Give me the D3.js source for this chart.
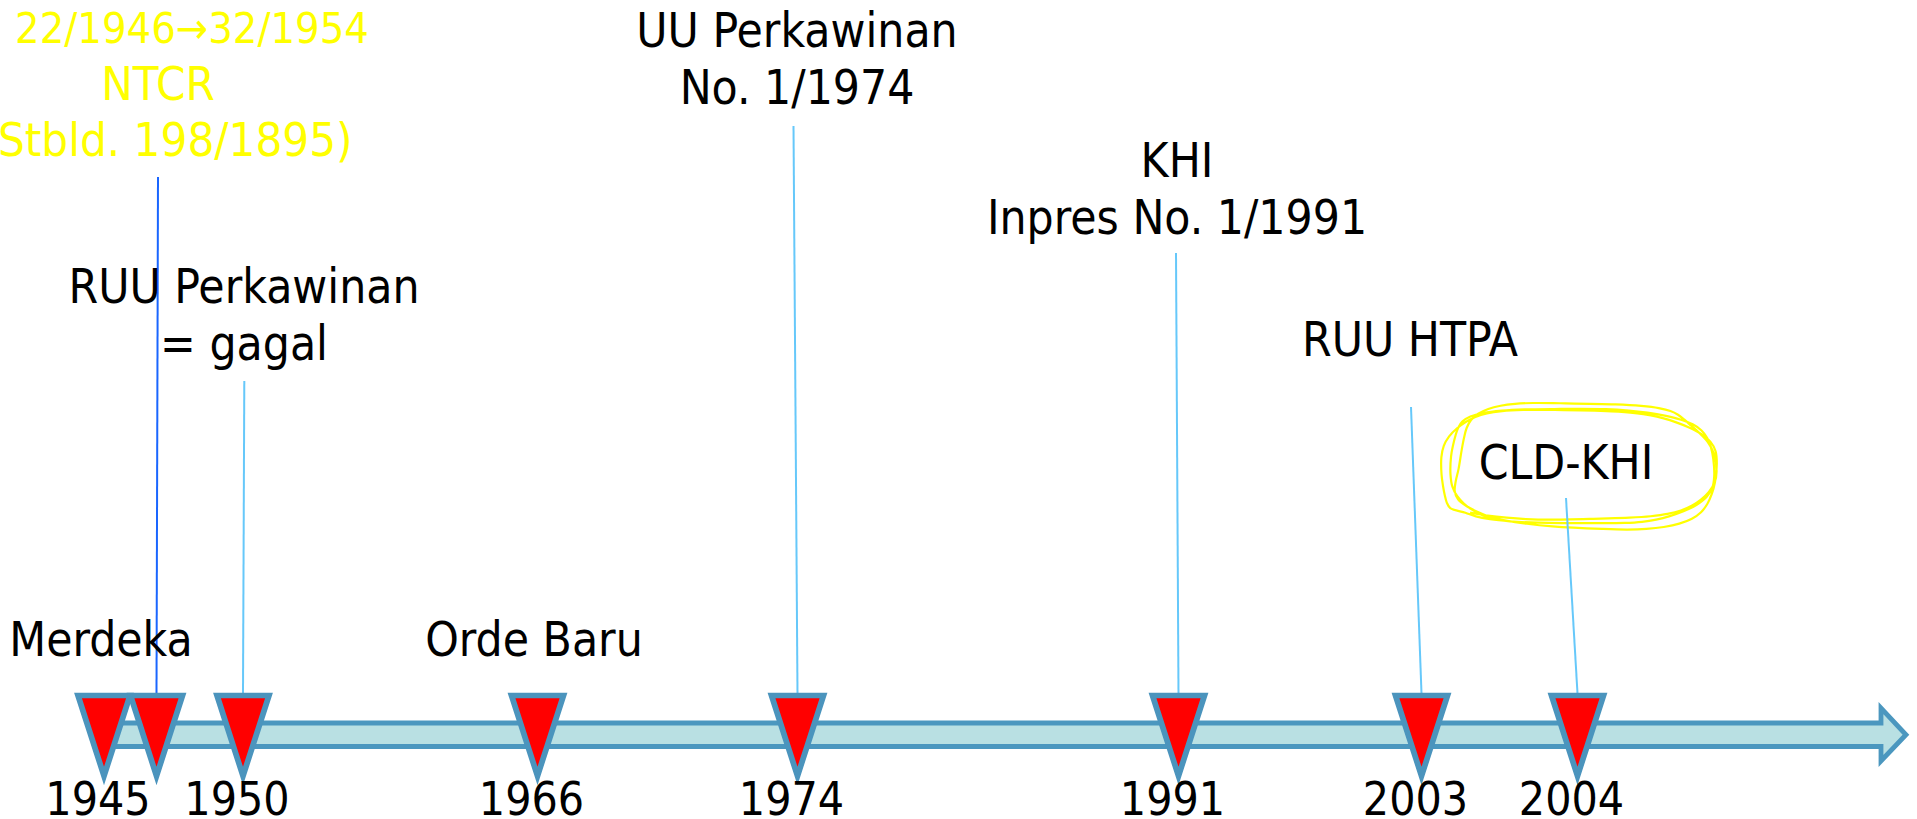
<!DOCTYPE html>
<meta charset="utf-8">
<style>
  html, body { margin: 0; padding: 0; background: #fff; overflow: hidden; }
  text { font-family: "DejaVu Sans Condensed", "DejaVu Sans", sans-serif; font-stretch: condensed; }
</style>
<body></body>
<script src="https://cdn.jsdelivr.net/npm/d3@7"></script>
<script>

const width = 1917, height = 819;

// events on the timeline
const years = [1945, 1946, 1950, 1966, 1974, 1991, 2003, 2004];
const yearTicks = ["1945", "", "1950", "1966", "1974", "1991", "2003", "2004"];
const eventText = [
  ["Merdeka"],
  ["22/1946\u219232/1954", "NTCR", "(Stbld. 198/1895)"],
  ["RUU Perkawinan", "= gagal"],
  ["Orde Baru"],
  ["UU Perkawinan", "No. 1/1974"],
  ["KHI", "Inpres No. 1/1991"],
  ["RUU HTPA"],
  ["CLD-KHI"]
];
const yellowText = [false, true, false, false, false, false, false, false];
const circledYear = 2004;

// where each event sits along the drawn arrow (the slide is not to scale)
const x = d3.scaleLinear()
    .domain(years)
    .range([104, 156.5, 243, 537.5, 797.5, 1178.5, 1421.5, 1577.5]);

// label blocks: centre x, first baseline, top end of the leader line
const labelPos = [
  {cx: 101,  y: 656, lead: null},
  {cx: 167,  y: 43,  lead: [158, 177], dx: [25, -9, 0], size: [43, 47, 47]},
  {cx: 244,  y: 303, lead: [244.3, 381]},
  {cx: 534,  y: 656, lead: null},
  {cx: 797,  y: 47,  lead: [793.5, 126]},
  {cx: 1177, y: 177, lead: [1176, 253]},
  {cx: 1410, y: 356, lead: [1411, 407]},
  {cx: 1566, y: 479, lead: [1566, 498]}
];

const fontSize = 47.5, tickSize = 46, lineH = 56.5;
const barTop = 723, barBot = 746.5, barMid = (barTop + barBot) / 2;
const triTop = 695.5, triTip = 776, triHalf = 26;

const events = years.map((y, i) => ({
  year: y, tick: yearTicks[i], lines: eventText[i], yellow: yellowText[i], pos: labelPos[i]
}));

const svg = d3.select("body").append("svg")
    .attr("width", width)
    .attr("height", height);

// scribbled highlight around CLD-KHI: one pen stroke going round three times
const cld = events.find(d => d.year === circledYear).pos;
const turns = [
  {dx: 10, dy: -18, rx: 134, ry: 60, rot: -3},
  {dx: 20, dy: -13, rx: 128, ry: 66, rot: 2.5},
  {dx: 6,  dy: -10, rx: 138, ry: 57, rot: 0},
  {dx: 14, dy: -15, rx: 131, ry: 62, rot: -1.5}
];
const sp = (v, n) => Math.sign(v) * Math.pow(Math.abs(v), 2 / n);
const pen = d3.range(0, 3 * 2 * Math.PI + 0.4, Math.PI / 20).map(t => {
  const k = t / (2 * Math.PI), i = Math.min(Math.floor(k), turns.length - 2), f = k - i;
  const a = turns[i], b = turns[i + 1], m = (p) => a[p] + (b[p] - a[p]) * f;
  const th = -t + 2.3;
  const wob = 1 + 0.05 * Math.sin(3 * th + i) + 0.03 * Math.cos(5 * th + 2 * i);
  const px = m("rx") * sp(Math.cos(th), 3.2) * wob;
  const py = m("ry") * sp(Math.sin(th), 2.6) * (1 + 0.06 * Math.sin(2 * th + 1));
  const r = m("rot") * Math.PI / 180;
  return [cld.cx + m("dx") + px * Math.cos(r) - py * Math.sin(r),
          cld.y + m("dy") + px * Math.sin(r) + py * Math.cos(r)];
});
svg.append("path")
    .attr("fill", "none")
    .attr("stroke", "#ffff00")
    .attr("stroke-width", 2.2)
    .attr("stroke-linejoin", "round")
    .attr("d", d3.line().curve(d3.curveCatmullRom)(pen));

// leader lines
svg.append("g")
  .selectAll("line")
  .data(events.filter(d => d.pos.lead))
  .join("line")
    .attr("x1", d => d.pos.lead[0])
    .attr("y1", d => d.pos.lead[1])
    .attr("x2", d => x(d.year))
    .attr("y2", triTop - 2)
    .attr("stroke", d => d.yellow ? "#1a66ff" : "#66c8fa")
    .attr("stroke-width", 2);

// arrow bar
const x0 = x(years[0]), headX = 1881, tipX = 1906;
svg.append("path")
    .attr("fill", "#b9e0e3")
    .attr("stroke", "#4b97bf")
    .attr("stroke-width", 4.8)
    .attr("d", `M${x0},${barTop}H${headX}V708L${tipX},${barMid}L${headX},761V${barBot}H${x0}Z`);

// markers
svg.append("g")
  .selectAll("path")
  .data(events)
  .join("path")
    .attr("fill", "#ff0000")
    .attr("stroke", "#4b94bd")
    .attr("stroke-width", 5.7)
    .attr("stroke-miterlimit", 6)
    .attr("d", d => `M${x(d.year) - triHalf},${triTop}H${x(d.year) + triHalf}L${x(d.year)},${triTip}Z`);

// year ticks
svg.append("g")
    .attr("font-size", tickSize)
    .attr("text-anchor", "middle")
  .selectAll("text")
  .data(events.filter(d => d.tick))
  .join("text")
    .attr("x", d => x(d.year) - 6)
    .attr("y", 815)
    .text(d => d.tick);

// event labels
const lab = svg.append("g")
    .attr("text-anchor", "middle")
  .selectAll("g")
  .data(events)
  .join("g")
    .attr("fill", d => d.yellow ? "#ffff00" : "#000");

lab.selectAll("text")
  .data(d => d.lines.map((t, i) => ({t, i, p: d.pos})))
  .join("text")
    .attr("x", d => d.p.cx + (d.p.dx ? d.p.dx[d.i] : 0))
    .attr("y", d => d.p.y + d.i * lineH)
    .attr("font-size", d => d.p.size ? d.p.size[d.i] : fontSize)
    .text(d => d.t);

</script>
